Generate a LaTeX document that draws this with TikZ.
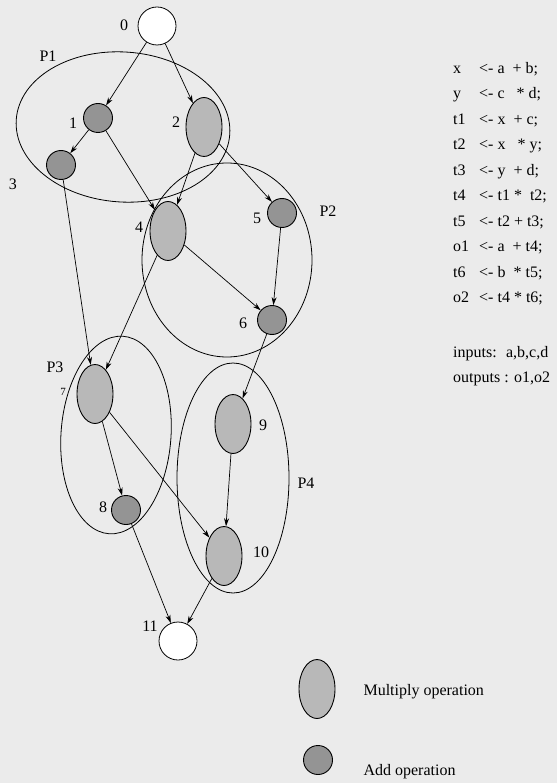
\documentclass[tikz,border=0pt]{standalone}
\usepackage{fontspec}
\setmainfont{Liberation Serif}
\usetikzlibrary{shapes.geometric,arrows.meta}

\definecolor{paper}{gray}{0.92}
\definecolor{mulfill}{gray}{0.72}
\definecolor{addfill}{gray}{0.58}

\tikzset{
  mulop/.style={ellipse, draw, line width=0.9pt, fill=mulfill,
    minimum width=36pt, minimum height=59pt, inner sep=0pt},
  addop/.style={circle, draw, line width=0.9pt, fill=addfill,
    minimum size=29pt, inner sep=0pt},
  ionode/.style={circle, draw, line width=0.8pt, fill=white, minimum size=38pt, inner sep=0pt},
  dep/.style={-{Stealth[length=8pt,width=5pt]}, line width=0.7pt},
  part/.style={line width=0.8pt},
  num/.style={font=\fontsize{16}{18}\selectfont, inner sep=0pt},
}

\begin{document}
\begin{tikzpicture}[x=1pt,y=-1pt]
  % Paper and page frame
  \fill[paper] (0,0) rectangle (557,783);
  \useasboundingbox (0,0) rectangle (557,783);
  % Operation nodes
  \node[ionode] (n0) at (157,26) {};
  \node[addop] (n1) at (98,118) {};
  \node[mulop] (n2) at (204,127) {};
  \node[addop] (n3) at (61,165) {};
  \node[mulop] (n4) at (168,231) {};
  \node[addop] (n5) at (282,213) {};
  \node[addop] (n6) at (272,320) {};
  \node[mulop] (n7) at (95,394) {};
  \node[addop] (n8) at (126,510) {};
  \node[mulop] (n9) at (233,424) {};
  \node[mulop] (n10) at (224,556) {};
  \node[ionode] (n11) at (178,641) {};
  % Node numbers
  \node[num] (l0) at (124,25) {0};
  \node[num] (l1) at (73,123) {1};
  \node[num] (l2) at (176,122) {2};
  \node[num] (l3) at (13,184) {3};
  \node[num] (l4) at (139,227) {4};
  \node[num] (l5) at (257,218) {5};
  \node[num] (l6) at (243,323) {6};
  \node[num, font=\fontsize{11}{12}\selectfont] (l7) at (63,392) {7};
  \node[num] (l8) at (103,507) {8};
  \node[num] (l9) at (263,425) {9};
  \node[num] (l10) at (261,552) {10};
  \node[num] (l11) at (150,626) {11};
  % Dependences
  \draw[dep] (n0) -- (n1);
  \draw[dep] (n0) -- (n2);
  \draw[dep] (n1) -- (n3);
  \draw[dep] (n1) -- (n4);
  \draw[dep] (n2) -- (n4);
  \draw[dep] (n2) -- (n5);
  \draw[dep] (n3) -- (n7);
  \draw[dep] (n4) -- (n7);
  \draw[dep] (n4) -- (n6);
  \draw[dep] (n5) -- (n6);
  \draw[dep] (n6) -- (n9);
  \draw[dep] (n7) -- (n8);
  \draw[dep] (n7) -- (n10);
  \draw[dep] (n9) -- (n10);
  \draw[dep] (n8) -- (n11);
  \draw[dep] (n10) -- (n11);
  % Partitions
  \draw[part, rotate around={-4:(123,127)}] (123,127) ellipse [x radius=107, y radius=75];
  \draw[part] (227,260) ellipse [x radius=85, y radius=97];
  \draw[part, rotate around={-4:(116,435)}] (116,435) ellipse [x radius=55, y radius=99];
  \draw[part] (233,478) ellipse [x radius=56, y radius=115];
  \node[num] (p1) at (48,56) {P1};
  \node[num] (p2) at (328,211) {P2};
  \node[num] (p3) at (55,367) {P3};
  \node[num] (p4) at (306,483) {P4};
  % Code listing
  \node[anchor=north west, inner sep=0pt, font=\fontsize{16}{25.5}\selectfont] (code) at (453,55) {%
    \setlength{\tabcolsep}{0pt}%
    \begin{tabular}{@{}l@{\hspace{10pt}}l@{\hspace{4pt}}l@{}}
      x  & <- & a \ + b;\\
      y  & <- & c \ \ * d;\\
      t1 & <- & x \ + c;\\
      t2 & <- & x \ \ * y;\\
      t3 & <- & y \ + d;\\
      t4 & <- & t1 * \ t2;\\
      t5 & <- & t2 + t3;\\
      o1 & <- & a \ + t4;\\
      t6 & <- & b \ * t5;\\
      o2 & <- & t4 * t6;
    \end{tabular}};
  \node[anchor=base west, inner sep=0pt, font=\fontsize{16}{18}\selectfont] (inputs) at (453,357) {inputs: \ a,b,c,d};
  \node[anchor=base west, inner sep=0pt, font=\fontsize{16}{18}\selectfont] (outputs) at (453,382) {outputs : o1,o2};
  % Legend
  \node[mulop] (legmul) at (317,689) {};
  \node[anchor=west, font=\fontsize{16}{18}\selectfont] (legmultext) at (360,692) {Multiply operation};
  \node[addop] (legadd) at (318,760) {};
  \node[anchor=west, font=\fontsize{16}{18}\selectfont] (legaddtext) at (360,772) {Add operation};
\end{tikzpicture}
\end{document}
